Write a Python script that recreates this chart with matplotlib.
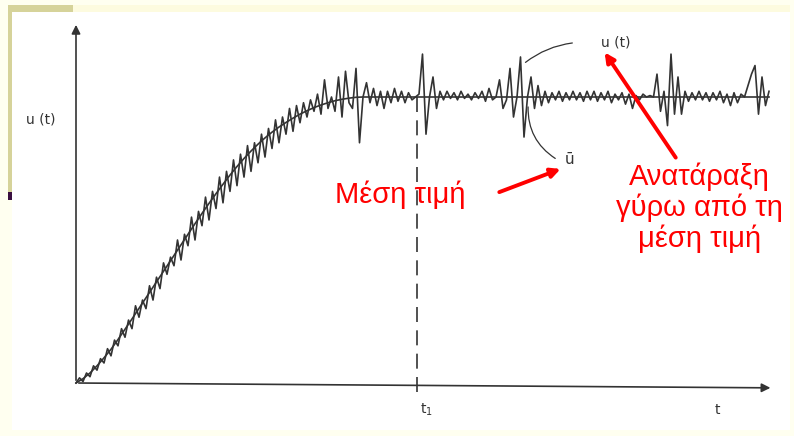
import matplotlib.pyplot as plt
import numpy as np
from matplotlib.patches import Rectangle

# mean value curve u-bar(t)
t_mean = [0, 1, 2, 3, 4, 5, 6, 7, 8, 9, 10, 11, 12, 13, 14, 15, 16, 17, 18, 19, 20,
          21, 22, 23, 24, 25, 26, 27, 28, 29, 30, 31, 32, 33, 34, 35, 36, 37, 38, 39,
          40, 41, 99]
u_mean = [0.0, 0.015, 0.035, 0.06, 0.088, 0.118, 0.152, 0.188, 0.224, 0.261, 0.298,
          0.335, 0.372, 0.409, 0.446, 0.483, 0.52, 0.557, 0.593, 0.628, 0.662, 0.695,
          0.727, 0.757, 0.785, 0.811, 0.835, 0.857, 0.877, 0.895, 0.911, 0.926, 0.94,
          0.952, 0.963, 0.972, 0.98, 0.987, 0.992, 0.996, 0.999, 1.0, 1.0]

# instantaneous signal u(t), one value every 0.5 time units
u_signal = [
    # rising part
    0.000, 0.018, 0.005, 0.035, 0.022, 0.060, 0.045, 0.085, 0.070, 0.120,
    0.095, 0.150, 0.130, 0.190, 0.160, 0.220, 0.190, 0.270, 0.230, 0.290,
    0.260, 0.340, 0.290, 0.370, 0.330, 0.420, 0.380, 0.440, 0.410, 0.500,
    0.430, 0.520, 0.480, 0.580, 0.500, 0.600, 0.550, 0.650, 0.570, 0.670,
    0.610, 0.720, 0.630, 0.740, 0.670, 0.780, 0.690, 0.800, 0.720, 0.830,
    0.740, 0.840, 0.770, 0.870, 0.790, 0.890, 0.820, 0.920, 0.840, 0.930,
    0.870, 0.960, 0.880, 0.970, 0.910, 0.980, 0.930, 0.990, 0.950, 1.010,
    0.940, 1.060, 0.960, 1.000, 0.950, 1.070, 0.930, 1.090, 0.980, 0.960,
    1.100, 0.840, 1.000,
    # plateau
    1.050, 0.980, 1.030, 0.970, 1.020, 0.960, 1.020, 0.980, 1.030, 0.985,
    1.020, 0.980, 1.015, 0.990, 1.000, 1.010,
    1.150, 0.870, 1.000, 1.070, 0.960, 1.020,
    0.990, 1.020, 0.995, 1.015, 0.990, 1.020, 0.995, 1.010, 0.990, 1.015,
    0.995, 1.020, 0.985, 1.030, 0.990, 1.000,
    1.060, 0.960, 0.990, 1.100, 0.930, 1.000, 1.140, 0.860, 1.000, 1.070,
    0.960, 1.040, 0.970,
    1.020, 0.980, 1.015, 0.990, 1.020, 0.985, 1.015, 0.990, 1.020, 0.990,
    1.015, 0.985, 1.020, 0.990, 1.020, 0.985, 1.015, 0.990, 1.020, 0.980,
    1.010, 0.990, 1.015, 0.975, 1.010, 0.960, 1.005, 0.990, 1.010, 1.000,
    1.005, 1.000,
    1.080, 0.950, 1.020, 0.900, 1.150, 0.940, 1.070, 0.940, 1.020,
    0.985, 1.015, 0.990, 1.020, 0.990, 1.015, 0.985, 1.015, 0.990, 1.020,
    0.980, 1.010, 0.970, 1.015, 0.980, 1.010, 1.000,
    1.040, 1.080, 1.110, 0.940, 1.070, 0.970, 1.020,
]
t_signal = np.arange(len(u_signal)) * 0.5

t1 = 48.7

W, H = 794, 436
ink = '#333333'
red = '#ff0000'

fig = plt.figure(figsize=(W / 100, H / 100), dpi=100)
fig.patch.set_facecolor('#fffff0')


def box(x0, y0, x1, y1, color):
    fig.patches.append(Rectangle((x0 / W, 1 - y1 / H), (x1 - x0) / W, (y1 - y0) / H,
                                 transform=fig.transFigure, color=color, lw=0, zorder=-5))


# slide frame
box(12, 12, 790, 430, 'white')
box(73, 5, 790, 12, '#fdfbdf')
box(8, 5, 73, 12, '#d6d39a')
box(8, 5, 12, 195, '#d6d39a')
box(8, 192, 12, 200, '#3a1040')

ax = fig.add_axes([76 / W, 1 - 383 / H, 700 / W, 361 / H])
ax.set_xlim(0, 100)
ax.set_ylim(0, 361 / 286)
ax.axis('off')

# axes with arrows
ax.annotate('', xy=(0, 1.262), xytext=(0, 0), annotation_clip=False,
            arrowprops=dict(arrowstyle='-|>', color=ink, lw=1.2, mutation_scale=13))
ax.annotate('', xy=(99.6, -0.017), xytext=(0, 0), annotation_clip=False,
            arrowprops=dict(arrowstyle='-|>', color=ink, lw=1.2, mutation_scale=13))

ax.plot(t_mean, u_mean, color=ink, lw=1.2, clip_on=False)
ax.plot(t_signal, u_signal, color=ink, lw=1.2, clip_on=False)
ax.plot([t1, t1], [1.0, -0.035], color=ink, lw=1.2, ls=(0, (9, 5)), clip_on=False)

# scan labels
ax.text(-5.1, 0.92, 'u (t)', fontsize=10, color=ink, ha='center', va='center')
ax.text(50.0, -0.094, 't$_1$', fontsize=10, color=ink, ha='center', va='center')
ax.text(91.6, -0.094, 't', fontsize=10, color=ink, ha='center', va='center')
ax.text(75.0, 1.19, 'u (t)', fontsize=10, color=ink, ha='left', va='center')
ax.text(69.8, 0.78, 'ū', fontsize=11, color=ink, ha='left', va='center')
ax.annotate('', xy=(63.9, 1.115), xytext=(71.3, 1.19),
            arrowprops=dict(arrowstyle='-', color=ink, lw=0.9,
                            connectionstyle='arc3,rad=0.15'))
ax.annotate('', xy=(64.6, 0.975), xytext=(68.8, 0.78),
            arrowprops=dict(arrowstyle='-', color=ink, lw=0.9,
                            connectionstyle='arc3,rad=-0.3'))

# red overlay
rfont = dict(family='Liberation Sans', fontsize=21, color=red)
ax.text(46.3, 0.629, 'Μέση τιμή', ha='center', va='baseline', **rfont)
ax.text(89.1, 0.692, 'Ανατάραξη', ha='center', va='baseline', **rfont)
ax.text(89.1, 0.583, 'γύρω από τη', ha='center', va='baseline', **rfont)
ax.text(89.1, 0.476, 'μέση τιμή', ha='center', va='baseline', **rfont)
ax.annotate('', xy=(69.6, 0.752), xytext=(60.1, 0.664),
            arrowprops=dict(arrowstyle='-|>', color=red, lw=2.8, mutation_scale=14))
ax.annotate('', xy=(75.3, 1.164), xytext=(85.9, 0.78),
            arrowprops=dict(arrowstyle='-|>', color=red, lw=2.8, mutation_scale=14))

fig.savefig('out.png', dpi=100, facecolor=fig.get_facecolor())
